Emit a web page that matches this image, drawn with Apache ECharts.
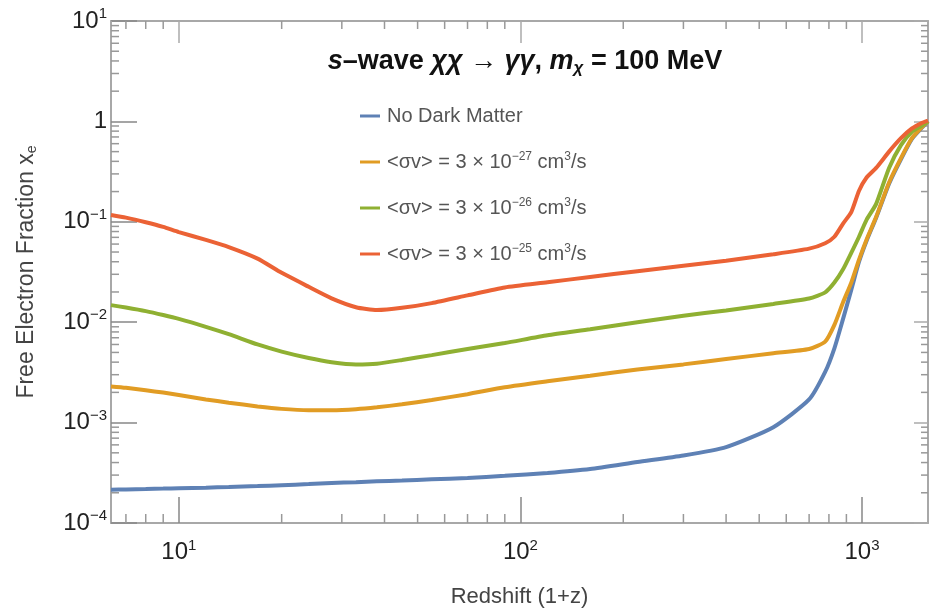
<!DOCTYPE html>
<html><head><meta charset="utf-8">
<script src="https://cdn.jsdelivr.net/npm/echarts@6/dist/echarts.min.js"></script>
<style>html,body{margin:0;padding:0;background:#fff}#c{width:930px;height:613px}</style>
</head><body><div id="c"></div><script>
// ---- data ----
const redshift = [6.33, 7, 8, 9, 10, 12, 14, 17, 20, 24, 28, 33, 38, 45, 55, 70, 90, 120, 160, 220, 300, 400, 550, 700, 780, 830, 880, 930, 980, 1030, 1100, 1200, 1300, 1400, 1500, 1560];
const xeNoDM = [2.14e-4, 2.16e-4, 2.18e-4, 2.2e-4, 2.22e-4, 2.25e-4, 2.28e-4, 2.33e-4, 2.38e-4, 2.44e-4, 2.5e-4, 2.55e-4, 2.6e-4, 2.65e-4, 2.72e-4, 2.8e-4, 2.95e-4, 3.15e-4, 3.45e-4, 4.05e-4, 4.7e-4, 5.7e-4, 9.0e-4, 1.7e-3, 3.2e-3, 5.5e-3, 0.0108, 0.021, 0.040, 0.064, 0.11, 0.24, 0.42, 0.67, 0.87, 1.0];
const xe27 = [0.00229, 0.00222, 0.00210, 0.00199, 0.00188, 0.00170, 0.00158, 0.00145, 0.00137, 0.00133, 0.00133, 0.00136, 0.00142, 0.00152, 0.00168, 0.00192, 0.00225, 0.00258, 0.00293, 0.00338, 0.0038, 0.0043, 0.0049, 0.0054, 0.0064, 0.0094, 0.0158, 0.0248, 0.042, 0.066, 0.112, 0.246, 0.43, 0.68, 0.88, 1.0];
const xe26 = [0.0148, 0.0140, 0.0129, 0.0118, 0.0108, 0.0090, 0.0076, 0.0060, 0.0051, 0.0044, 0.0040, 0.0038, 0.00386, 0.0042, 0.0047, 0.0054, 0.0062, 0.0074, 0.0085, 0.0100, 0.0116, 0.0131, 0.0152, 0.0172, 0.0198, 0.0248, 0.0336, 0.049, 0.071, 0.104, 0.151, 0.344, 0.58, 0.787, 0.91, 1.0];
const xe25 = [0.117, 0.110, 0.099, 0.089, 0.079, 0.066, 0.056, 0.043, 0.031, 0.0225, 0.0173, 0.0141, 0.0132, 0.0139, 0.0155, 0.0185, 0.0222, 0.025, 0.0282, 0.0322, 0.0365, 0.041, 0.0475, 0.054, 0.0612, 0.071, 0.096, 0.125, 0.204, 0.275, 0.344, 0.50, 0.68, 0.85, 0.97, 1.02];
const seriesNames = ['No Dark Matter', '<σv> = 3 × 10^-27 cm^3/s', '<σv> = 3 × 10^-26 cm^3/s', '<σv> = 3 × 10^-25 cm^3/s'];
const legendLabels = ['No Dark Matter', '<σv> = 3 × 10{sup|−27} cm{sup|3}/s', '<σv> = 3 × 10{sup|−26} cm{sup|3}/s', '<σv> = 3 × 10{sup|−25} cm{sup|3}/s'];
const xTickValues = [10, 100, 1000];
const xTickLabels = ['10{sup|1}', '10{sup|2}', '10{sup|3}'];
const yTickValues = [1e-4, 1e-3, 1e-2, 1e-1, 1, 10];
const yTickLabels = ['10{sup|−4}', '10{sup|−3}', '10{sup|−2}', '10{sup|−1}', '1', '10{sup|1}'];
const xMinorTicks = [7, 8, 9, 20, 30, 40, 50, 60, 70, 80, 90, 200, 300, 400, 500, 600, 700, 800, 900];
const yMinorTicks = [];
[1e-4, 1e-3, 1e-2, 1e-1, 1].forEach(d => { for (let k = 2; k <= 9; k++) yMinorTicks.push(+(k * d).toPrecision(3)); });
const X_MIN = 6.33, X_MAX = 1560, Y_MIN = 1e-4, Y_MAX = 10;
const colors = ['#5e81b5', '#e19c24', '#8fb032', '#eb6235'];
const seriesData = [xeNoDM, xe27, xe26, xe25];

function lookup(vals, labels) {
  return v => {
    for (let i = 0; i < vals.length; i++) if (Math.abs(Math.log10(v) - Math.log10(vals[i])) < 1e-6) return labels[i];
    return '';
  };
}
const FONT = 'Liberation Sans';
const frameColor = '#a8a8a8';
const tickColor = '#888';
const supRich = { sup: { fontSize: 15, fontFamily: FONT, color: '#222', padding: [0, 0, 14, 0] } };

const baseX = { type: 'log', logBase: 10, min: X_MIN, max: X_MAX, gridIndex: 0,
  axisLine: { show: true, lineStyle: { color: frameColor, width: 2 } },
  splitLine: { show: false }, minorTick: { show: false } };
const baseY = { type: 'log', logBase: 10, min: Y_MIN, max: Y_MAX, gridIndex: 0, splitNumber: 5,
  axisLine: { show: true, lineStyle: { color: frameColor, width: 2 } },
  splitLine: { show: false }, minorTick: { show: false } };

const chart = echarts.init(document.getElementById('c'), null, { renderer: 'canvas' });
chart.setOption({
  animation: false,
  backgroundColor: '#fff',
  grid: { left: 111, top: 21, width: 817, height: 511, containLabel: false },
  xAxis: [
    Object.assign({}, baseX, {
      position: 'bottom',
      axisTick: { show: true, inside: true, length: 26, lineStyle: { color: tickColor, width: 1.5 } },
      axisLabel: { show: true, showMinLabel: false, showMaxLabel: false, margin: 15, fontSize: 24, fontFamily: FONT, color: '#222',
        formatter: lookup(xTickValues, xTickLabels), rich: supRich },
      name: 'Redshift (1+z)', nameLocation: 'middle', nameGap: 63,
      nameTextStyle: { fontSize: 22, fontFamily: FONT, color: '#444' }
    }),
    Object.assign({}, baseX, {
      position: 'top',
      axisTick: { show: true, inside: true, length: 22, lineStyle: { color: '#aaa', width: 1.5 } },
      axisLabel: { show: false }
    })
  ],
  yAxis: [
    Object.assign({}, baseY, {
      position: 'left',
      axisTick: { show: true, inside: true, length: 26, lineStyle: { color: tickColor, width: 1.5 } },
      axisLabel: { show: true, margin: 4, fontSize: 24, fontFamily: FONT, color: '#222',
        formatter: lookup(yTickValues, yTickLabels), rich: supRich },
      name: 'Free Electron Fraction {i|x}{sub|e}', nameLocation: 'middle', nameGap: 72, nameRotate: 90,
      nameTextStyle: { fontSize: 23, fontFamily: FONT, color: '#444',
        rich: { i: { fontSize: 23, fontFamily: FONT, color: '#444' }, sub: { fontSize: 14, fontFamily: FONT, color: '#444', padding: [10, 0, 0, 0] } } }
    }),
    Object.assign({}, baseY, {
      position: 'right',
      axisTick: { show: true, inside: true, length: 14, lineStyle: { color: '#aaa', width: 1.5 } },
      axisLabel: { show: false }
    })
  ],
  legend: {
    data: seriesNames, orient: 'vertical', left: 355, top: 101, itemWidth: 20, itemHeight: 3, itemGap: 25,
    icon: 'rect', selectedMode: false,
    formatter: name => legendLabels[seriesNames.indexOf(name)],
    textStyle: { fontSize: 20, fontFamily: FONT, color: '#555', padding: [0, 0, 0, 2],
      rich: { sup: { fontSize: 12, fontFamily: FONT, color: '#555', padding: [0, 0, 10, 0] } } }
  },
  graphic: [{
    type: 'text', x: 525, y: 62, z: 10,
    style: {
      text: '{i|s}–wave {i|χχ} → {i|γγ}, {i|m}{sub|χ} = 100 MeV',
      align: 'center', verticalAlign: 'middle',
      fontSize: 27, fontWeight: 'bold', fontFamily: FONT, fill: '#111',
      rich: {
        i: { fontStyle: 'italic', fontWeight: 'bold', fontSize: 27, fontFamily: FONT, color: '#111' },
        sub: { fontStyle: 'italic', fontWeight: 'bold', fontSize: 17, fontFamily: FONT, color: '#111', padding: [13, 0, 0, 0] }
      }
    }
  }],
  series: seriesNames.map((n, i) => ({
    name: n, type: 'line', xAxisIndex: 0, yAxisIndex: 0,
    data: redshift.map((x, j) => [x, seriesData[i][j]]),
    showSymbol: false, smooth: 0.2,
    lineStyle: { color: colors[i], width: 4 }, itemStyle: { color: colors[i] }, z: 3 + i
  })).concat([
    {
      type: 'custom', coordinateSystem: 'cartesian2d', xAxisIndex: 0, yAxisIndex: 0, silent: true, clip: false, z: 1,
      data: xMinorTicks.map(v => [v, Y_MIN]),
      renderItem: (params, api) => {
        const v = api.value(0);
        const pb = api.coord([v, Y_MIN]);
        const pt = api.coord([v, Y_MAX]);
        const st = { stroke: '#999', lineWidth: 1.5 };
        return { type: 'group', children: [
          { type: 'line', shape: { x1: pb[0], y1: pb[1], x2: pb[0], y2: pb[1] - 9 }, style: st },
          { type: 'line', shape: { x1: pt[0], y1: pt[1], x2: pt[0], y2: pt[1] + 8 }, style: st }
        ] };
      }
    },
    {
      type: 'custom', coordinateSystem: 'cartesian2d', xAxisIndex: 0, yAxisIndex: 0, silent: true, clip: false, z: 1,
      data: yMinorTicks.map(v => [X_MIN, v]),
      renderItem: (params, api) => {
        const v = api.value(1);
        const pl = api.coord([X_MIN, v]);
        const pr = api.coord([X_MAX, v]);
        const st = { stroke: '#999', lineWidth: 1.5 };
        return { type: 'group', children: [
          { type: 'line', shape: { x1: pl[0], y1: pl[1], x2: pl[0] + 8, y2: pl[1] }, style: st },
          { type: 'line', shape: { x1: pr[0], y1: pr[1], x2: pr[0] - 7, y2: pr[1] }, style: st }
        ] };
      }
    }
  ])
});
</script></body></html>
